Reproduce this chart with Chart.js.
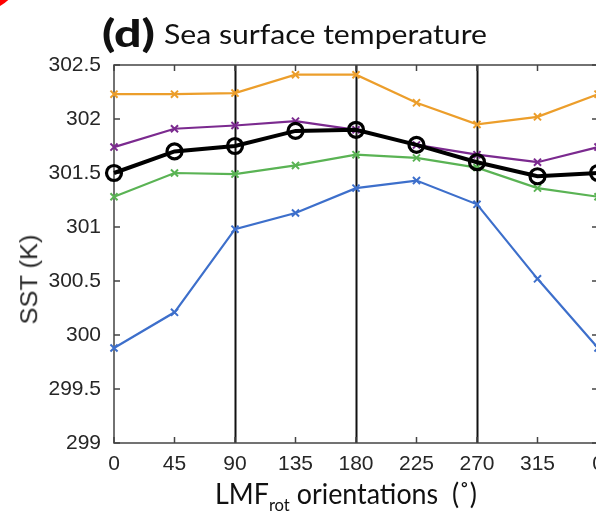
<!DOCTYPE html>
<html>
<head>
<meta charset="utf-8">
<script src="https://cdn.jsdelivr.net/npm/chart.js@4.4.1/dist/chart.umd.min.js"></script>
<style>
  html, body { margin:0; padding:0; background:#fff; width:596px; height:511px; overflow:hidden; }
  #wrap { position:absolute; left:0; top:0; width:620px; height:511px; }
  .txt { position:absolute; white-space:nowrap; line-height:1; color:#111; transform-origin:0 0; }
  #panel { font-family:Lato; font-weight:900; }
  #title { font-family:Lato; }
  #xtitle { font-family:Lato; }
  #xtitle sub { font-size:0.62em; vertical-align:-0.38em; line-height:0; }
  #ytitle { font-family:'Liberation Sans'; color:#262626; transform-origin:50% 50%; }
  #blob { position:absolute; left:-60px; top:-70px; width:81px; height:81px; border-radius:50%; background:#f00; }
</style>
</head>
<body>
<div id="wrap"><canvas id="sst" width="620" height="511"></canvas></div>
<div id="blob"></div>
<div class="txt" id="panel">(d)</div>
<div class="txt" id="title">Sea surface temperature</div>
<div class="txt" id="xtitle">LMF<sub>rot</sub> orientations&nbsp;&nbsp;(˚)</div>
<div class="txt" id="ytitle">SST (K)</div>
<script>
// orientations (deg); 360 repeats 0
const angles = [0, 45, 90, 135, 180, 225, 270, 315, 360];
const sstBlack  = [301.50, 301.70, 301.75, 301.89, 301.90, 301.76, 301.60, 301.47, 301.50];
const sstPurple = [301.74, 301.91, 301.94, 301.98, 301.90, 301.76, 301.67, 301.60, 301.74];
const sstOrange = [302.23, 302.23, 302.24, 302.41, 302.41, 302.15, 301.95, 302.02, 302.23];
const sstGreen  = [301.28, 301.50, 301.49, 301.57, 301.67, 301.64, 301.55, 301.36, 301.28];
const sstBlue   = [299.88, 300.21, 300.98, 301.13, 301.36, 301.43, 301.21, 300.52, 299.88];

const xTicks = [0, 45, 90, 135, 180, 225, 270, 315, 360];
const xTickLabels = ['0', '45', '90', '135', '180', '225', '270', '315', '0'];
const yTicks = [299, 299.5, 300, 300.5, 301, 301.5, 302, 302.5];
const yTickLabels = ['299', '299.5', '300', '300.5', '301', '301.5', '302', '302.5'];
const dividers = [90, 180, 270];

const pts = (vals) => angles.map((a, i) => ({ x: a, y: vals[i] }));
const crossSet = (vals, color) => ({
  data: pts(vals), borderColor: color, backgroundColor: color,
  borderWidth: 2.2, pointStyle: 'crossRot', pointRadius: 5, pointBorderWidth: 2,
  pointBorderColor: color, tension: 0, clip: false
});

// axes box, inward ticks and the black orientation lines
const frame = {
  id: 'frame',
  beforeDatasetsDraw(chart) {
    const { ctx, chartArea: a, scales: { x, y } } = chart;
    ctx.save();
    ctx.strokeStyle = '#111';
    ctx.lineWidth = 2;
    dividers.forEach(d => {
      const px = Math.round(x.getPixelForValue(d)) + 0.5;
      ctx.beginPath(); ctx.moveTo(px, a.top); ctx.lineTo(px, a.bottom); ctx.stroke();
    });
    ctx.strokeStyle = '#444';
    ctx.lineWidth = 1.5;
    ctx.strokeRect(a.left, a.top, a.right - a.left, a.bottom - a.top);
    const tl = 6;
    ctx.beginPath();
    xTicks.forEach(v => {
      const px = x.getPixelForValue(v);
      ctx.moveTo(px, a.bottom); ctx.lineTo(px, a.bottom - tl);
      ctx.moveTo(px, a.top); ctx.lineTo(px, a.top + tl);
    });
    yTicks.forEach(v => {
      const py = y.getPixelForValue(v);
      ctx.moveTo(a.left, py); ctx.lineTo(a.left + tl, py);
      ctx.moveTo(a.right, py); ctx.lineTo(a.right - tl, py);
    });
    ctx.stroke();
    ctx.restore();
  }
};

const tickFont = { family: 'Liberation Sans', size: 21 };

new Chart(document.getElementById('sst'), {
  type: 'line',
  data: {
    datasets: [
      { data: pts(sstBlack), borderColor: '#000', borderWidth: 4, pointStyle: 'circle',
        pointRadius: 7.5, pointBorderWidth: 3.2, pointBorderColor: '#000',
        pointBackgroundColor: 'rgba(0,0,0,0)', tension: 0, clip: false },
      crossSet(sstPurple, '#7B2A8F'),
      crossSet(sstOrange, '#EC9E2B'),
      crossSet(sstGreen, '#5AB354'),
      crossSet(sstBlue, '#3D6FCB')
    ]
  },
  options: {
    responsive: false, animation: false,
    layout: { padding: { top: 65, right: 22, left: 0, bottom: 0 } },
    plugins: { legend: { display: false }, tooltip: { enabled: false } },
    scales: {
      x: {
        type: 'linear', min: 0, max: 360,
        afterBuildTicks: s => { s.ticks = xTicks.map(v => ({ value: v })); },
        afterFit: s => { s.height = 68; },
        grid: { display: false, drawTicks: false }, border: { display: false },
        ticks: { autoSkip: false, maxRotation: 0, padding: 9, color: '#262626', font: tickFont,
                 callback: (v, i) => xTickLabels[i] }
      },
      y: {
        min: 299, max: 302.5,
        afterBuildTicks: s => { s.ticks = yTicks.map(v => ({ value: v })); },
        afterFit: s => { s.width = 114; },
        grid: { display: false, drawTicks: false }, border: { display: false },
        ticks: { padding: 13, color: '#262626', font: tickFont,
                 callback: (v, i) => yTickLabels[i] }
      }
    }
  },
  plugins: [frame]
});

// html labels: size from cap height, stretched to the width
function place(id, left, baseline, capH, width, capRatio, baseRatio) {
  const el = document.getElementById(id);
  const f = capH / capRatio;
  el.style.fontSize = f + 'px';
  el.style.left = left + 'px';
  el.style.top = (baseline - baseRatio * f) + 'px';
  const w = el.getBoundingClientRect().width;
  el.style.transform = `scaleX(${width / w})`;
}
place('panel', 102, 47, 27, 53, 0.717, 0.887);
place('title', 164, 45, 20, 323, 0.717, 0.887);
place('xtitle', 215, 504, 21, 262, 0.717, 0.887);

(function () {
  const el = document.getElementById('ytitle');
  const f = 23;
  el.style.fontSize = f + 'px';
  const r = el.getBoundingClientRect();
  const cx = 29.5, cy = 279, len = 90;
  el.style.left = (cx - r.width / 2) + 'px';
  el.style.top = (cy - r.height / 2) + 'px';
  el.style.transform = `rotate(-90deg) scaleX(${len / r.width})`;
})();
</script>
</body>
</html>
